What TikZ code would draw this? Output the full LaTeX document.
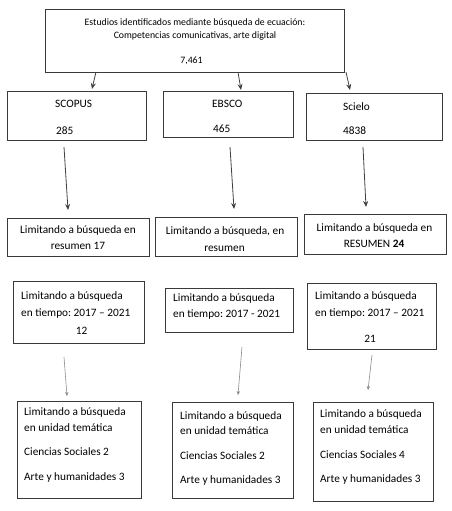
\documentclass[tikz,border=0pt]{standalone}
\usepackage{fontspec}
\setmainfont{Carlito}
\frenchspacing
\usetikzlibrary{arrows.meta}
\definecolor{boxgray}{HTML}{3A3A3A}
\definecolor{arrdark}{HTML}{404040}
\definecolor{arrlight}{HTML}{8A8A8A}
\tikzset{
  box/.style={draw=boxgray, line width=0.9pt, inner sep=0pt, anchor=north west},
  txt/.style={inner sep=0pt, font=\fontsize{11.3}{13}\selectfont, text=black},
  txts/.style={inner sep=0pt, font=\fontsize{9.8}{12}\selectfont, text=black},
  arrA/.style={draw=arrdark, line width=0.8pt, -{Stealth[length=6pt,width=5pt]}},
  arrB/.style={draw=arrlight, line width=0.6pt, -{Stealth[length=4pt,width=3.5pt]}}
}
\begin{document}
\begin{tikzpicture}[x=1pt,y=-1pt]
\useasboundingbox (0,0) rectangle (452,511);
% boxes
\node[box, minimum width=299pt, minimum height=63pt] (top) at (45,9) {};
\node[box, minimum width=139pt, minimum height=49pt] (s1) at (7,91) {};
\node[box, minimum width=130pt, minimum height=46pt] (s2) at (163,91) {};
\node[box, minimum width=136pt, minimum height=47pt] (s3) at (306,93) {};
\node[box, minimum width=142pt, minimum height=38pt] (r1) at (7,218) {};
\node[box, minimum width=142pt, minimum height=39pt] (r2) at (155,217) {};
\node[box, minimum width=142pt, minimum height=40pt] (r3) at (304,214) {};
\node[box, minimum width=131pt, minimum height=62pt] (t1) at (13,281) {};
\node[box, minimum width=128pt, minimum height=44pt] (t2) at (165,288) {};
\node[box, minimum width=129pt, minimum height=66pt] (t3) at (307,283) {};
\node[box, minimum width=124pt, minimum height=97pt] (u1) at (17,401) {};
\node[box, minimum width=121pt, minimum height=96pt] (u2) at (172,402) {};
\node[box, minimum width=120pt, minimum height=99pt] (u3) at (313,402) {};
% top text
\node[txts, anchor=base] (top1) at (195,25.5) {Estudios identificados mediante búsqueda de ecuación:};
\node[txts, anchor=base] (top2) at (195,38.5) {Competencias comunicativas, arte digital};
\node[txts, anchor=base] (top3) at (191.5,63.5) {7,461};
% row 2
\node[txt, anchor=base west] (s1a) at (55,107) {SCOPUS};
\node[txt, anchor=base west] (s1b) at (56,134) {285};
\node[txt, anchor=base west] (s2a) at (212,107) {EBSCO};
\node[txt, anchor=base west] (s2b) at (213,132) {465};
\node[txt, anchor=base west] (s3a) at (343,110) {Scielo};
\node[txt, anchor=base west] (s3b) at (343,134) {4838};
% row 3
\node[txt, anchor=base] (r1a) at (78,233) {Limitando a búsqueda en};
\node[txt, anchor=base] (r1b) at (78,249) {resumen 17};
\node[txt, anchor=base] (r2a) at (225,234) {Limitando a búsqueda, en};
\node[txt, anchor=base] (r2b) at (224.5,251) {resumen};
\node[txt, anchor=base] (r3a) at (374.5,231) {Limitando a búsqueda en};
\node[txt, anchor=base] (r3b) at (374,247) {RESUMEN \textbf{24}};
% row 4
\node[txt, anchor=base west] (t1a) at (21,299) {Limitando a búsqueda};
\node[txt, anchor=base west] (t1b) at (21,316) {en tiempo: 2017 – 2021};
\node[txt, anchor=base] (t1c) at (81.5,334) {12};
\node[txt, anchor=base west] (t2a) at (173,301) {Limitando a búsqueda};
\node[txt, anchor=base west] (t2b) at (173,317) {en tiempo: 2017 - 2021};
\node[txt, anchor=base west] (t3a) at (315,299) {Limitando a búsqueda};
\node[txt, anchor=base west] (t3b) at (315,316) {en tiempo: 2017 – 2021};
\node[txt, anchor=base] (t3c) at (370,342) {21};
% row 5
\node[txt, anchor=base west] (u1a) at (24,415.7) {Limitando a búsqueda};
\node[txt, anchor=base west] (u1b) at (24,431) {en unidad temática};
\node[txt, anchor=base west] (u1c) at (24,455.7) {Ciencias Sociales 2};
\node[txt, anchor=base west] (u1d) at (24,480) {Arte y humanidades 3};
\node[txt, anchor=base west] (u2a) at (180,419) {Limitando a búsqueda};
\node[txt, anchor=base west] (u2b) at (180,434.3) {en unidad temática};
\node[txt, anchor=base west] (u2c) at (180,459.3) {Ciencias Sociales 2};
\node[txt, anchor=base west] (u2d) at (180,483.5) {Arte y humanidades 3};
\node[txt, anchor=base west] (u3a) at (320,417.7) {Limitando a búsqueda};
\node[txt, anchor=base west] (u3b) at (320,433.3) {en unidad temática};
\node[txt, anchor=base west] (u3c) at (320,458.3) {Ciencias Sociales 4};
\node[txt, anchor=base west] (u3d) at (320,482.5) {Arte y humanidades 3};
% arrow end points
\coordinate (a1s) at (96,72); \coordinate (a1e) at (92,89);
\coordinate (a2s) at (238,72); \coordinate (a2e) at (241,90);
\coordinate (a3s) at (346,72); \coordinate (a3e) at (350,90);
\coordinate (b1s) at (64,147); \coordinate (b1e) at (68,210);
\coordinate (b2s) at (230,147); \coordinate (b2e) at (234,209);
\coordinate (b3s) at (363,147); \coordinate (b3e) at (366,207);
\coordinate (c1s) at (64,357); \coordinate (c1e) at (67,396);
\coordinate (c2s) at (242,347); \coordinate (c2e) at (238,395);
\coordinate (c3s) at (372,355); \coordinate (c3e) at (368,390);
\draw[arrA] (a1s) -- (a1e);
\draw[arrA] (a2s) -- (a2e);
\draw[arrA] (a3s) -- (a3e);
\draw[arrA] (b1s) -- (b1e);
\draw[arrA] (b2s) -- (b2e);
\draw[arrA] (b3s) -- (b3e);
\draw[arrB] (c1s) -- (c1e);
\draw[arrB] (c2s) -- (c2e);
\draw[arrB] (c3s) -- (c3e);
\end{tikzpicture}
\end{document}
